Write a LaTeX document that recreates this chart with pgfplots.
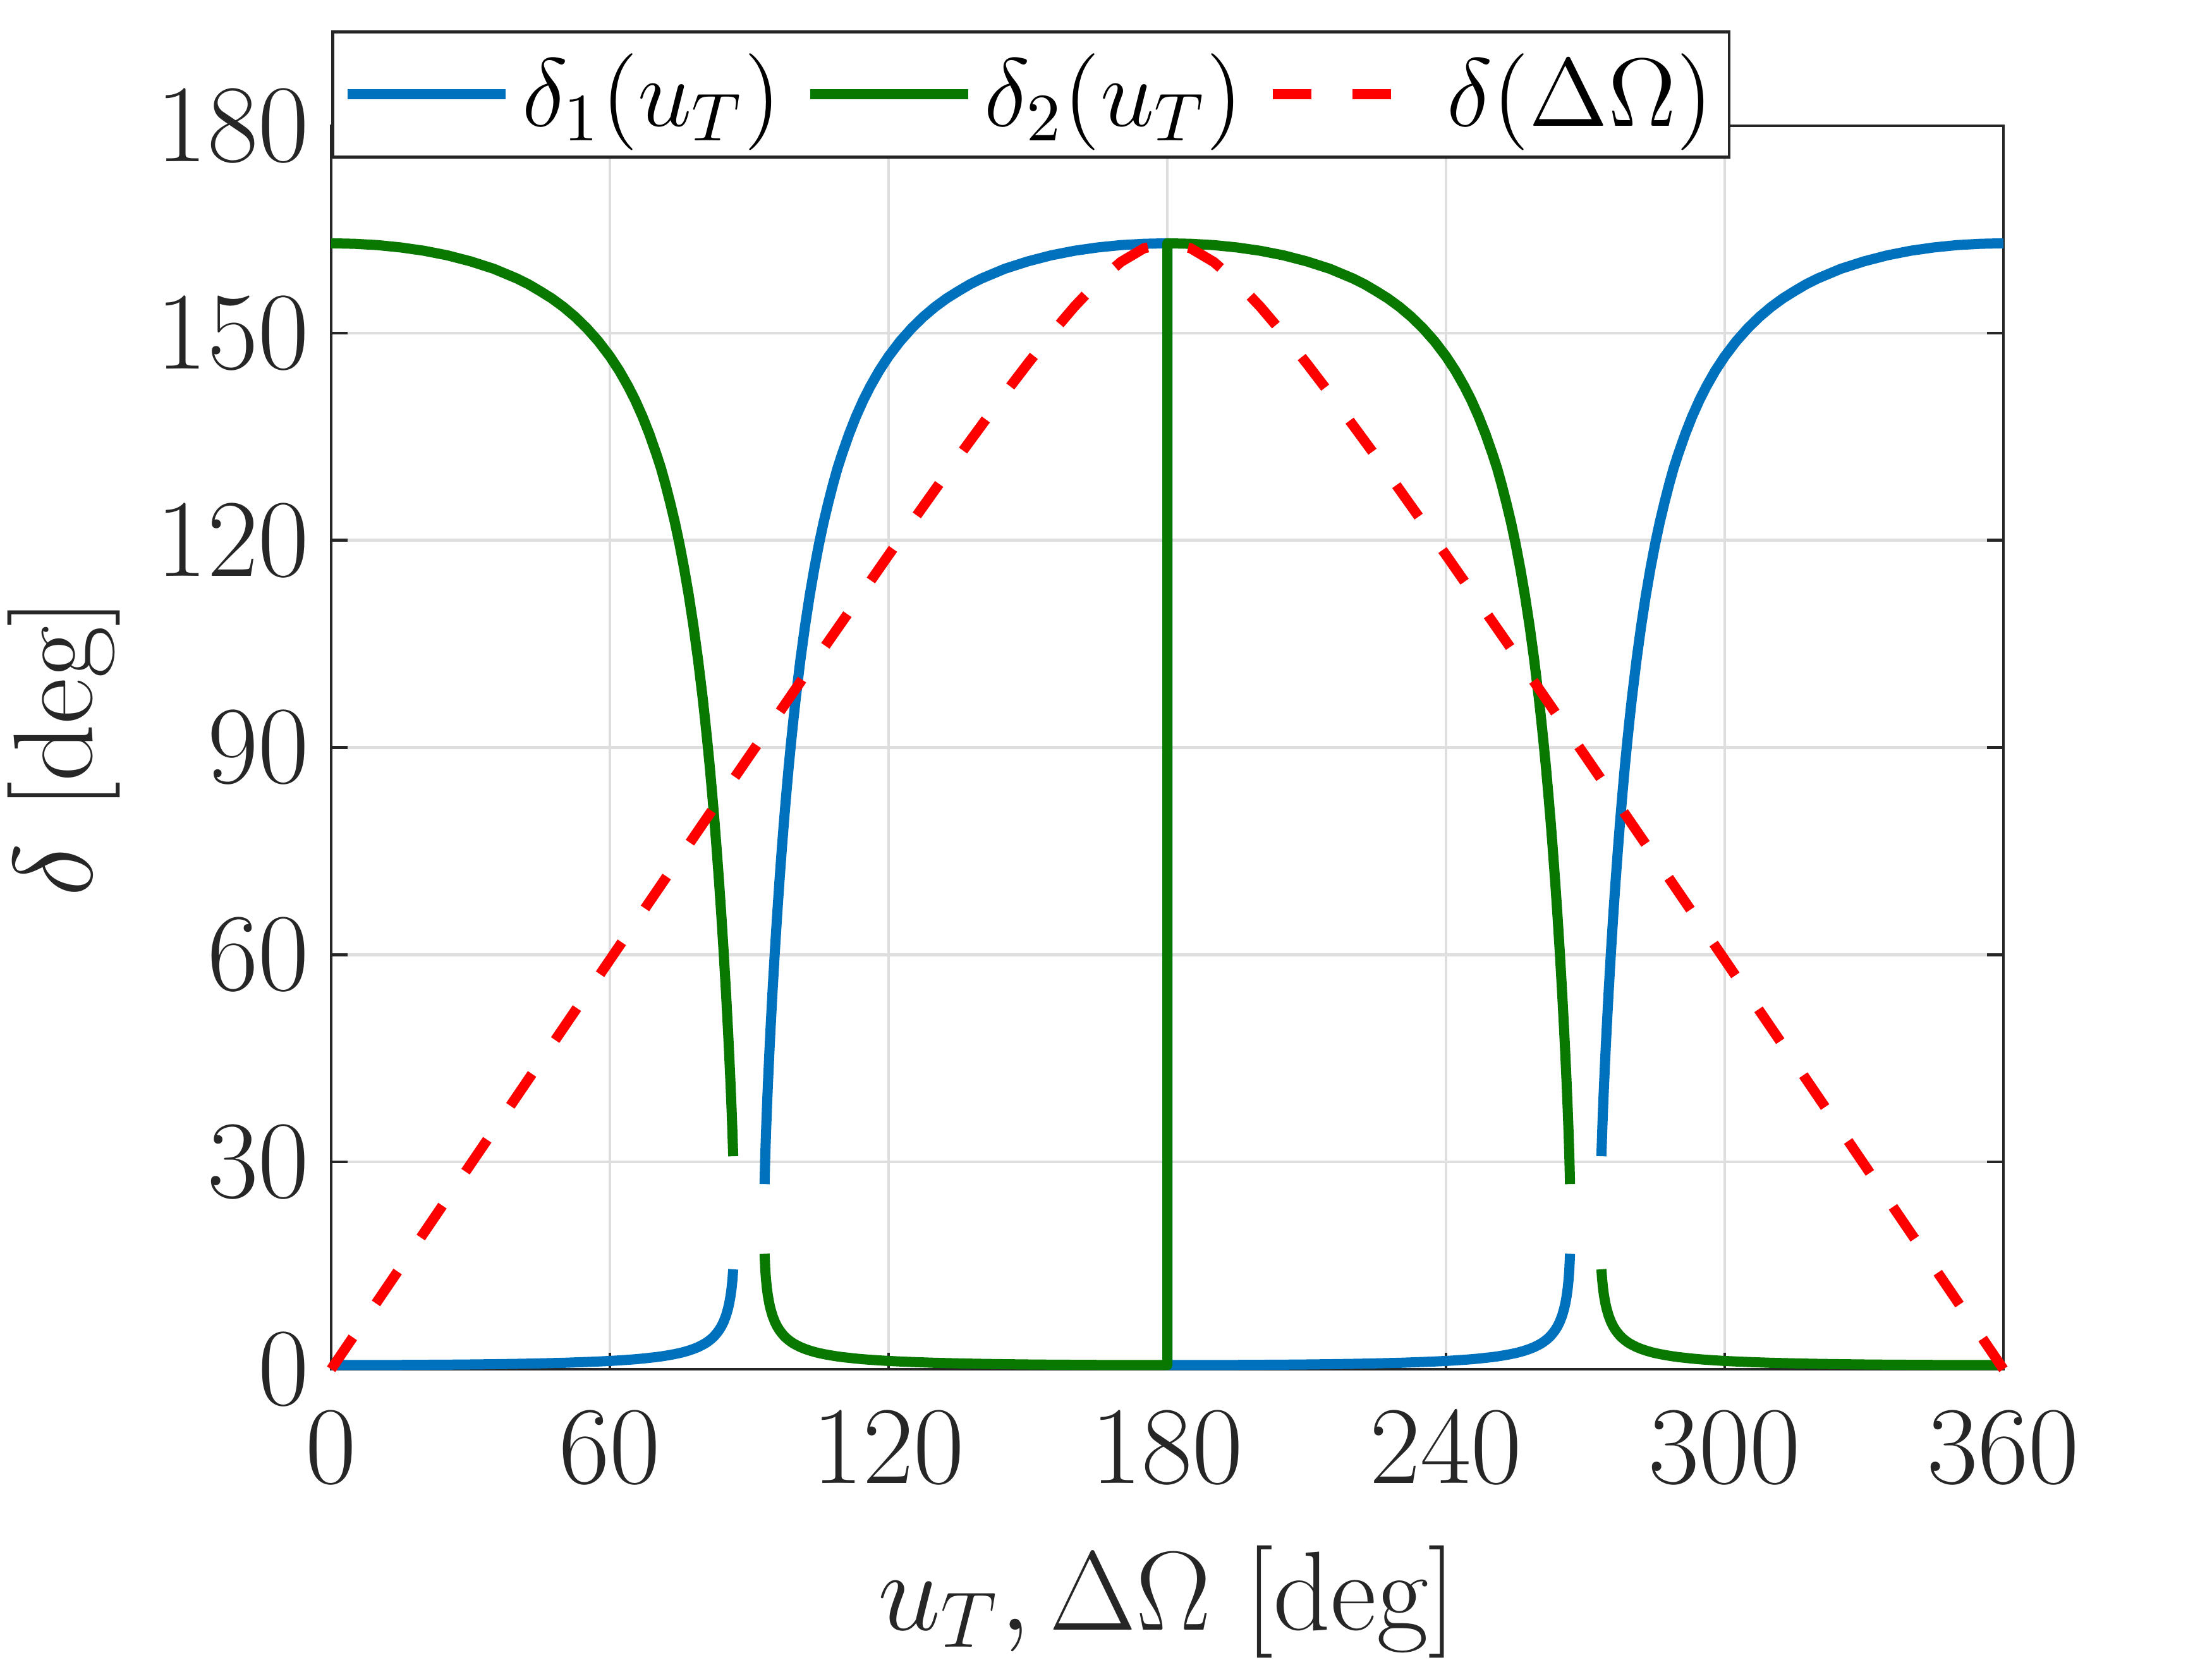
\RequirePackage{fix-cm}
\documentclass[border=0pt]{standalone}
\usepackage{pgfplots}
\pgfplotsset{compat=1.18}
\definecolor{mblue}{RGB}{0,114,189}
\definecolor{mgreen}{RGB}{8,120,0}
\definecolor{axc}{RGB}{38,38,38}
\begin{document}
\begin{tikzpicture}
\begin{axis}[
  at={(0,0)}, anchor=south west,
  scale only axis, width=264.6pt, height=196.7pt,
  xmin=0, xmax=360, ymin=0, ymax=180,
  xtick={0,60,...,360}, ytick={0,30,...,180},
  tick align=inside, major tick length=2.6pt,
  grid=major, major grid style={draw=black!13, line width=0.45pt},
  axis line style={draw=axc, line width=0.45pt},
  tick style={draw=axc, line width=0.45pt},
  tick label style={font=\fontsize{17.5}{20}\selectfont, text=axc},
  xticklabel style={yshift=-3.2pt},
  label style={font=\fontsize{17.8}{21}\selectfont, text=axc},
  xlabel={$u_T, \Delta\Omega$ [deg]},
  ylabel={$\delta$ [deg]},
  xlabel style={at={(axis description cs:0.5,-0.1871)}, anchor=center},
  ylabel style={at={(axis description cs:-0.1599,0.5)}, anchor=center},
  unbounded coords=jump, clip=false,
  legend columns=3,
  legend style={at={(0,1.0766)}, anchor=north west, draw=axc, line width=0.45pt, fill=white,
    inner xsep=1.6pt, inner ysep=1.9pt, font=\fontsize{15.3}{18}\selectfont,
    nodes={inner xsep=0.9pt, inner ysep=1.5pt, text depth=0.15em},
    /tikz/every even column/.append style={column sep=2.95pt}},
  legend image code/.code={\draw[#1] (0pt,0pt) -- (25pt,0pt); \path (0pt,0pt) (25.9pt,0pt);},
]
\addplot[color=mblue, line width=1.6pt, line join=round] coordinates {
(0,0.60) (5,0.60) (10,0.61) (15,0.62) (20,0.64) (25,0.66) (30,0.69) (35,0.73) (40,0.78) (42.5,0.81) (45,0.85) (47.5,0.89) (50,0.93) (52.5,0.99) (55,1.05) (57.5,1.12) (60,1.20) (62,1.28) (64,1.37) (65.5,1.45) (67,1.54) (68.5,1.65) (70,1.76) (71,1.85) (72,1.96) (73,2.07) (74,2.20) (75,2.34) (76,2.51) (77,2.71) (78,2.94) (79,3.21) (80,3.55) (80.5,3.74) (81,3.96) (81.5,4.21) (82,4.49) (82.5,4.82) (83,5.21) (83.5,5.66) (84,6.21) (84.5,6.89) (85,7.77) (85.4,8.69) (85.7,9.57) (86,10.72) (86.2,11.73) (86.4,13.07) (86.55,14.47) (90,nan)
(93.3,26.80) (93.45,30.83) (93.6,33.99) (93.8,37.63) (94,40.90) (94.3,45.36) (94.6,49.46) (95,54.51) (95.5,60.32) (96,65.66) (96.5,70.60) (97,75.18) (97.5,79.48) (98,83.46) (98.5,87.25) (99,90.69) (99.5,93.96) (100,97.04) (101,102.61) (102,107.55) (103,111.96) (104,115.87) (105,119.41) (106,122.57) (107,125.39) (108,128.01) (109,130.43) (110,132.50) (111.5,135.39) (113,137.94) (114.5,140.20) (116,142.21) (118,144.57) (120,146.62) (122.5,148.83) (125,150.72) (127.5,152.36) (130,153.78) (132.5,155.01) (135,156.06) (137.5,157.05) (140,157.89) (145,159.30) (150,160.38) (155,161.25) (160,161.91) (165,162.39) (170,162.73) (175,162.92) (180,162.99)
(180,0.60) (185,0.60) (190,0.61) (195,0.62) (200,0.64) (205,0.66) (210,0.69) (215,0.73) (220,0.78) (222.5,0.81) (225,0.85) (227.5,0.89) (230,0.93) (232.5,0.99) (235,1.05) (237.5,1.12) (240,1.20) (242,1.28) (244,1.37) (245.5,1.45) (247,1.54) (248.5,1.65) (250,1.76) (251,1.85) (252,1.96) (253,2.07) (254,2.20) (255,2.34) (256,2.51) (257,2.71) (258,2.94) (259,3.21) (260,3.55) (260.5,3.74) (261,3.96) (261.5,4.21) (262,4.49) (262.5,4.82) (263,5.21) (263.5,5.66) (264,6.21) (264.5,6.89) (265,7.77) (265.4,8.69) (265.7,9.57) (266,10.72) (266.2,11.73) (266.4,13.07) (266.55,14.47) (266.7,16.71) (270,nan)
(273.45,30.83) (273.6,33.99) (273.8,37.63) (274,40.90) (274.3,45.36) (274.6,49.46) (275,54.51) (275.5,60.32) (276,65.66) (276.5,70.60) (277,75.18) (277.5,79.48) (278,83.46) (278.5,87.25) (279,90.69) (279.5,93.96) (280,97.04) (281,102.61) (282,107.55) (283,111.96) (284,115.87) (285,119.41) (286,122.57) (287,125.39) (288,128.01) (289,130.43) (290,132.50) (291.5,135.39) (293,137.94) (294.5,140.20) (296,142.21) (298,144.57) (300,146.62) (302.5,148.83) (305,150.72) (307.5,152.36) (310,153.78) (312.5,155.01) (315,156.06) (317.5,157.05) (320,157.89) (325,159.30) (330,160.38) (335,161.25) (340,161.91) (345,162.39) (350,162.73) (355,162.92) (360,162.99)
};
\addlegendentry{$\delta_1(u_T)$}
\addplot[color=mgreen, line width=1.6pt, line join=round] coordinates {
(0,162.99) (5,162.92) (10,162.73) (15,162.39) (20,161.91) (25,161.25) (30,160.38) (35,159.30) (40,157.89) (42.5,157.05) (45,156.06) (47.5,155.01) (50,153.78) (52.5,152.36) (55,150.72) (57.5,148.83) (60,146.62) (62,144.57) (64,142.21) (65.5,140.20) (67,137.94) (68.5,135.39) (70,132.50) (71,130.43) (72,128.01) (73,125.39) (74,122.57) (75,119.41) (76,115.87) (77,111.96) (78,107.55) (79,102.61) (80,97.04) (80.5,93.96) (81,90.69) (81.5,87.25) (82,83.46) (82.5,79.48) (83,75.18) (83.5,70.60) (84,65.66) (84.5,60.32) (85,54.51) (85.4,49.46) (85.7,45.36) (86,40.90) (86.2,37.63) (86.4,33.99) (86.55,30.83) (90,nan)
(93.3,16.71) (93.45,14.47) (93.6,13.07) (93.8,11.73) (94,10.72) (94.3,9.57) (94.6,8.69) (95,7.77) (95.5,6.89) (96,6.21) (96.5,5.66) (97,5.21) (97.5,4.82) (98,4.49) (98.5,4.21) (99,3.96) (99.5,3.74) (100,3.55) (101,3.21) (102,2.94) (103,2.71) (104,2.51) (105,2.34) (106,2.20) (107,2.07) (108,1.96) (109,1.85) (110,1.76) (111.5,1.65) (113,1.54) (114.5,1.45) (116,1.37) (118,1.28) (120,1.20) (122.5,1.12) (125,1.05) (127.5,0.99) (130,0.93) (132.5,0.89) (135,0.85) (137.5,0.81) (140,0.78) (145,0.73) (150,0.69) (155,0.66) (160,0.64) (165,0.62) (170,0.61) (175,0.60) (180,0.60)
(180,162.99) (185,162.92) (190,162.73) (195,162.39) (200,161.91) (205,161.25) (210,160.38) (215,159.30) (220,157.89) (222.5,157.05) (225,156.06) (227.5,155.01) (230,153.78) (232.5,152.36) (235,150.72) (237.5,148.83) (240,146.62) (242,144.57) (244,142.21) (245.5,140.20) (247,137.94) (248.5,135.39) (250,132.50) (251,130.43) (252,128.01) (253,125.39) (254,122.57) (255,119.41) (256,115.87) (257,111.96) (258,107.55) (259,102.61) (260,97.04) (260.5,93.96) (261,90.69) (261.5,87.25) (262,83.46) (262.5,79.48) (263,75.18) (263.5,70.60) (264,65.66) (264.5,60.32) (265,54.51) (265.4,49.46) (265.7,45.36) (266,40.90) (266.2,37.63) (266.4,33.99) (266.55,30.83) (266.7,26.80) (270,nan)
(273.45,14.47) (273.6,13.07) (273.8,11.73) (274,10.72) (274.3,9.57) (274.6,8.69) (275,7.77) (275.5,6.89) (276,6.21) (276.5,5.66) (277,5.21) (277.5,4.82) (278,4.49) (278.5,4.21) (279,3.96) (279.5,3.74) (280,3.55) (281,3.21) (282,2.94) (283,2.71) (284,2.51) (285,2.34) (286,2.20) (287,2.07) (288,1.96) (289,1.85) (290,1.76) (291.5,1.65) (293,1.54) (294.5,1.45) (296,1.37) (298,1.28) (300,1.20) (302.5,1.12) (305,1.05) (307.5,0.99) (310,0.93) (312.5,0.89) (315,0.85) (317.5,0.81) (320,0.78) (325,0.73) (330,0.69) (335,0.66) (340,0.64) (345,0.62) (350,0.61) (355,0.60) (360,0.60)
};
\addlegendentry{$\delta_2(u_T)$}
\addplot[color=red, line width=1.6pt, dash pattern=on 6.1pt off 6.5pt] coordinates {
(0,0) (15,14.83) (30,29.66) (45,44.48) (60,59.27) (75,74.04) (90,88.75) (105,103.38) (120,117.86) (135,132.05) (145,141.21) (150,145.61) (155,149.86) (160,153.82) (165,157.36) (170,160.29) (175,162.28) (180,163.0) (185,162.28) (190,160.29) (195,157.36) (200,153.82) (205,149.86) (210,145.61) (215,141.21) (225,132.05) (240,117.86) (255,103.38) (270,88.75) (285,74.04) (300,59.27) (315,44.48) (330,29.66) (345,14.83) (360,0)
};
\addlegendentry{$\delta(\Delta\Omega)$}
\end{axis}
\pgfresetboundingbox
\useasboundingbox (-52.4pt,-45.9pt) rectangle (297.6pt,216.6pt);
\end{tikzpicture}
\end{document}
